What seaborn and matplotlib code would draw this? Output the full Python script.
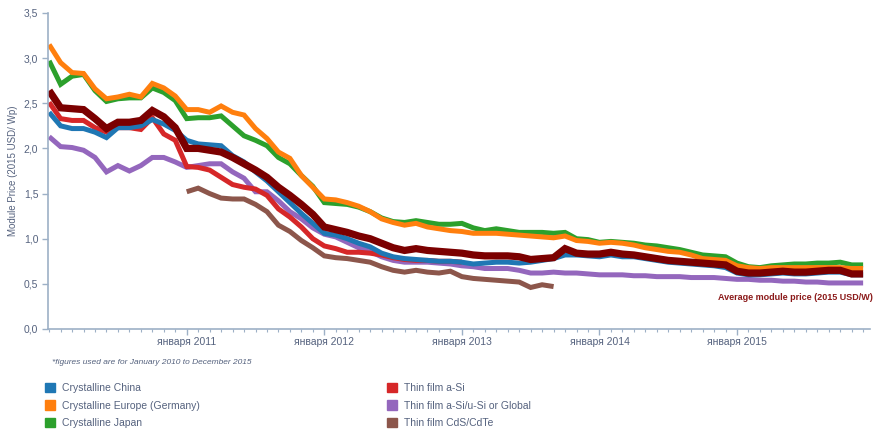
import pandas as pd
import matplotlib.pyplot as plt
from matplotlib.patches import Patch
import seaborn as sns

# ====================
# DATA (month 0 = Jan 2010)
# ====================
months_full = list(range(72))

china = [2.40, 2.25, 2.22, 2.22, 2.18, 2.12, 2.23, 2.23, 2.25, 2.32, 2.27, 2.20,
         2.09, 2.05, 2.04, 2.03, 1.92, 1.85, 1.74, 1.64, 1.52, 1.40, 1.28, 1.17,
         1.06, 1.04, 1.00, 0.95, 0.91, 0.84, 0.80, 0.78, 0.77, 0.76, 0.75, 0.75,
         0.74, 0.72, 0.73, 0.74, 0.74, 0.73, 0.74, 0.76, 0.78, 0.82, 0.82, 0.81,
         0.80, 0.82, 0.80, 0.80, 0.78, 0.76, 0.74, 0.73, 0.72, 0.71, 0.70, 0.68,
         0.62, 0.60, 0.60, 0.61, 0.62, 0.61, 0.61, 0.62, 0.63, 0.63, 0.60, 0.60]

europe = [3.15, 2.95, 2.84, 2.83, 2.66, 2.55, 2.57, 2.60, 2.57, 2.72, 2.67, 2.58,
          2.43, 2.43, 2.40, 2.47, 2.40, 2.37, 2.22, 2.11, 1.96, 1.89, 1.70, 1.57,
          1.44, 1.43, 1.40, 1.36, 1.30, 1.22, 1.18, 1.15, 1.17, 1.13, 1.11, 1.09,
          1.08, 1.06, 1.06, 1.06, 1.05, 1.04, 1.03, 1.02, 1.01, 1.03, 0.98, 0.97,
          0.95, 0.96, 0.95, 0.93, 0.90, 0.88, 0.86, 0.85, 0.82, 0.78, 0.77, 0.76,
          0.70, 0.68, 0.67, 0.68, 0.68, 0.68, 0.68, 0.68, 0.68, 0.68, 0.67, 0.67]

japan = [2.97, 2.71, 2.80, 2.82, 2.64, 2.52, 2.55, 2.56, 2.56, 2.67, 2.62, 2.53,
         2.33, 2.34, 2.34, 2.36, 2.25, 2.14, 2.09, 2.03, 1.90, 1.83, 1.70, 1.58,
         1.40, 1.39, 1.38, 1.35, 1.30, 1.23, 1.19, 1.18, 1.20, 1.18, 1.16, 1.16,
         1.17, 1.12, 1.09, 1.11, 1.09, 1.07, 1.07, 1.07, 1.06, 1.07, 1.00, 0.99,
         0.96, 0.97, 0.96, 0.95, 0.93, 0.92, 0.90, 0.88, 0.85, 0.82, 0.81, 0.80,
         0.73, 0.69, 0.68, 0.70, 0.71, 0.72, 0.72, 0.73, 0.73, 0.74, 0.71, 0.71]

asi_months = list(range(37))
asi = [2.51, 2.33, 2.31, 2.31, 2.23, 2.18, 2.23, 2.23, 2.21, 2.34, 2.16, 2.09,
       1.80, 1.79, 1.76, 1.68, 1.60, 1.57, 1.55, 1.48, 1.33, 1.24, 1.13, 1.00,
       0.92, 0.89, 0.85, 0.85, 0.84, 0.82, 0.79, 0.77, 0.76, 0.76, 0.75, 0.75,
       0.74]

global_si = [2.13, 2.02, 2.01, 1.98, 1.90, 1.74, 1.81, 1.75, 1.81, 1.90, 1.90, 1.85,
             1.79, 1.81, 1.83, 1.83, 1.74, 1.67, 1.52, 1.52, 1.42, 1.30, 1.22, 1.12,
             1.05, 1.02, 0.96, 0.90, 0.86, 0.80, 0.76, 0.74, 0.74, 0.74, 0.73, 0.72,
             0.70, 0.69, 0.67, 0.67, 0.67, 0.65, 0.62, 0.62, 0.63, 0.62, 0.62, 0.61,
             0.60, 0.60, 0.60, 0.59, 0.59, 0.58, 0.58, 0.58, 0.57, 0.57, 0.57, 0.56,
             0.55, 0.55, 0.54, 0.54, 0.53, 0.53, 0.52, 0.52, 0.51, 0.51, 0.51, 0.51]

cdte_months = list(range(12, 45))
cdte = [1.52, 1.56, 1.50, 1.45, 1.44, 1.44, 1.38, 1.30, 1.15, 1.08, 0.98, 0.90,
        0.81, 0.79, 0.78, 0.76, 0.74, 0.69, 0.65, 0.63, 0.65, 0.63, 0.62, 0.64,
        0.58, 0.56, 0.55, 0.54, 0.53, 0.52, 0.46, 0.49, 0.47]

average = [2.64, 2.45, 2.44, 2.43, 2.33, 2.22, 2.29, 2.29, 2.31, 2.42, 2.35, 2.23,
           2.00, 2.00, 1.98, 1.96, 1.90, 1.83, 1.76, 1.68, 1.57, 1.48, 1.38, 1.27,
           1.13, 1.10, 1.07, 1.03, 1.00, 0.95, 0.90, 0.87, 0.89, 0.87, 0.86, 0.85,
           0.84, 0.82, 0.81, 0.81, 0.81, 0.80, 0.77, 0.78, 0.79, 0.89, 0.84, 0.83,
           0.83, 0.85, 0.83, 0.82, 0.80, 0.78, 0.76, 0.75, 0.74, 0.73, 0.72, 0.71,
           0.64, 0.62, 0.62, 0.63, 0.64, 0.63, 0.63, 0.64, 0.65, 0.65, 0.61, 0.61]

year_ticks = [12, 24, 36, 48, 60]
year_labels = ["января 2011", "января 2012", "января 2013", "января 2014", "января 2015"]
y_ticks = [0.0, 0.5, 1.0, 1.5, 2.0, 2.5, 3.0, 3.5]

# ====================
# ESTILO Y COLORES
# ====================
sns.set_style("white")
plt.rcParams['font.family'] = ['Liberation Sans', 'DejaVu Sans']
txt_col = "#55627e"
axis_col = "#9db0c6"

# name, months, values, colour, width (draw order)
series = [
    ("Thin film CdS/CdTe", cdte_months, cdte, "#8c564b", 3.6),
    ("Thin film a-Si/u-Si or Global", months_full, global_si, "#9467bd", 3.6),
    ("Thin film a-Si", asi_months, asi, "#d62728", 3.6),
    ("Crystalline China", months_full, china, "#1f77b4", 3.6),
    ("Crystalline Japan", months_full, japan, "#2ca02c", 3.6),
    ("Crystalline Europe (Germany)", months_full, europe, "#ff7f0e", 3.6),
    ("Average", months_full, average, "#7b0000", 5.2),
]

fig = plt.figure(figsize=(8.74, 4.29), dpi=100)
ax = fig.add_axes([48 / 874, 1 - 329 / 429, 822 / 874, 316 / 429])

for name, mm, vals, col, lw in series:
    df = pd.DataFrame({"month": mm, "price": vals})
    sns.lineplot(data=df, x="month", y="price", ax=ax, color=col, linewidth=lw,
                 solid_capstyle="butt", solid_joinstyle="miter", legend=False)

ax.set_xlim(-0.1, 71.6)
ax.set_ylim(0, 3.5)
ax.set_yticks(y_ticks)
ax.set_yticklabels([f"{v:.1f}".replace(".", ",") for v in y_ticks])
ax.set_xticks(year_ticks)
ax.set_xticklabels(year_labels)
ax.set_xticks(months_full, minor=True)
ax.set_xlabel("")
ax.set_ylabel("Module Price (2015 USD/ Wp)", fontsize=7, color=txt_col, labelpad=4)

for s in ["top", "right"]:
    ax.spines[s].set_visible(False)
for s in ["left", "bottom"]:
    ax.spines[s].set_color(axis_col)
    ax.spines[s].set_linewidth(1.2)

ax.tick_params(axis="y", which="major", direction="out", length=4, width=1,
               color=axis_col, labelsize=7.5, labelcolor=txt_col, pad=3, left=True)
ax.tick_params(axis="x", which="major", direction="out", length=4, width=1,
               color=axis_col, labelsize=7.5, labelcolor=txt_col, pad=2, bottom=True)
ax.tick_params(axis="x", which="minor", direction="out", length=2, width=0.8,
               color=axis_col, bottom=True)

fig.text(873 / 874, 1 - 297 / 429, "Average module price (2015 USD/W)",
         ha="right", va="center", fontsize=6.5, color="#8b1a1a", fontweight="bold")
fig.text(52 / 874, 1 - 362 / 429, "*figures used are for January 2010 to December 2015",
         ha="left", va="center", fontsize=6, color=txt_col, style="italic")

# ====================
# LEYENDA
# ====================
left_items = [("Crystalline China", "#1f77b4"), ("Crystalline Europe (Germany)", "#ff7f0e"),
              ("Crystalline Japan", "#2ca02c")]
right_items = [("Thin film a-Si", "#d62728"), ("Thin film a-Si/u-Si or Global", "#9467bd"),
               ("Thin film CdS/CdTe", "#8c564b")]

for items, xpos in [(left_items, 45 / 874), (right_items, 387 / 874)]:
    handles = [Patch(facecolor=c, edgecolor=c, label=l) for l, c in items]
    leg = fig.legend(handles=handles, loc="upper left", bbox_to_anchor=(xpos, 1 - 383 / 429),
                     frameon=False, fontsize=7.5, handlelength=1.0, handleheight=1.0,
                     handletextpad=0.6, labelspacing=0.68, borderaxespad=0, borderpad=0)
    for t in leg.get_texts():
        t.set_color(txt_col)

fig.savefig("out.png", dpi=100)
